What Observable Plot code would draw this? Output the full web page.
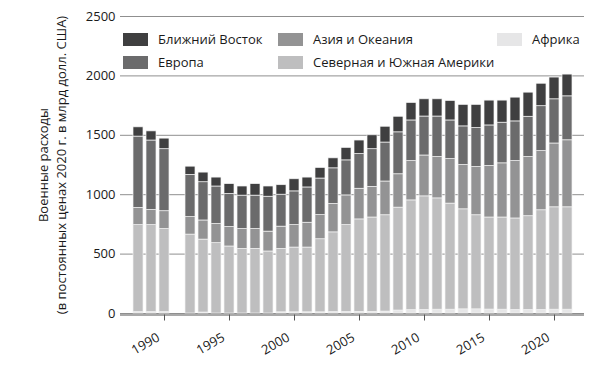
<!DOCTYPE html>
<html><head><meta charset="utf-8">
<script src="https://cdn.jsdelivr.net/npm/d3@7"></script>
<script src="https://cdn.jsdelivr.net/npm/@observablehq/plot@0.6"></script>
<style>
body{margin:0;background:#fff;}
#wrap{position:relative;width:616px;height:378px;font-family:"Open Sans",sans-serif;color:#1a1a1a;}
.lg{position:absolute;display:flex;align-items:center;font-size:13px;white-space:nowrap;}
.lg span.sw{display:inline-block;width:25px;height:13px;margin-right:10px;}
</style></head><body><div id="wrap"></div>
<script>
const years    = [1988,1989,1990,1992,1993,1994,1995,1996,1997,1998,1999,2000,2001,2002,2003,2004,2005,2006,2007,2008,2009,2010,2011,2012,2013,2014,2015,2016,2017,2018,2019,2020,2021];
const africa   = [12,12,12,0,8,0,0,0,0,0,10,10,10,10,12,12,14,14,16,25,28,30,32,32,35,35,33,32,30,30,30,32,32];
const americas = [732,732,699,664,614,592,564,544,544,522,534,545,545,615,671,732,778,794,811,866,924,956,937,893,842,792,775,776,770,789,839,862,862];
const asia     = [145,128,150,147,161,161,164,167,167,167,187,189,209,203,239,250,258,258,284,281,331,344,348,375,373,406,434,456,483,498,498,537,564];
const europe   = [600,584,522,356,322,316,278,281,281,294,269,284,297,308,300,295,292,317,328,353,342,328,341,325,325,328,341,342,334,339,378,372,370];
const middleEast = [78,77,89,69,81,75,83,77,97,86,80,102,83,89,84,105,114,117,133,131,147,145,145,164,181,195,209,186,200,203,189,183,183];

const seriesNames = ["Африка","Северная и Южная Америки","Азия и Океания","Европа","Ближний Восток"];
const seriesColors = ["#e6e6e7","#bebebf","#939394","#6b6b6c","#3f3f40"];
const tickYears = [1990,1995,2000,2005,2010,2015,2020];
const yTicks = [0,500,1000,1500,2000,2500];
const yLabel = "Военные расходы\n(в постоянных ценах 2020 г. в млрд долл. США)";

const seriesValues = [africa, americas, asia, europe, middleEast];
const data = years.flatMap((yr, i) => seriesNames.map((name, k) => ({year: yr, region: name, value: seriesValues[k][i]})));

const chart = Plot.plot({
  width: 616, height: 378,
  marginTop: 16, marginBottom: 65, marginLeft: 120, marginRight: 32,
  style: {fontFamily: "'Open Sans', sans-serif", fontSize: "13px", color: "#1a1a1a", background: "#fff"},
  x: {type: "band", domain: d3.range(1988, 2022), padding: 0.26, label: null},
  y: {domain: [0, 2500], label: null},
  color: {domain: seriesNames, range: seriesColors},
  marks: [
    Plot.gridY(yTicks, {stroke: "#8f8f8f", strokeOpacity: 1, strokeWidth: 1}),
    Plot.barY(data, {x: "year", y: "value", fill: "region", order: seriesNames, stroke: "#f3f3f3", strokeWidth: 0.7}),
    Plot.ruleY([0], {stroke: "#555", strokeWidth: 1.2, dy: 1.5}),
    Plot.axisY(yTicks, {tickSize: 0, tickPadding: 5, fontSize: 13, tickFormat: d => String(d), label: null}),
    Plot.axisX(tickYears, {tickSize: 6, stroke: "#555", dy: 1.5, tickFormat: () => "", label: null}),
    Plot.axisX(tickYears, {tickSize: 0, tickRotate: -30, tickPadding: 17, dx: -6, dy: 6, fontSize: 13, tickFormat: d => String(d), label: null}),
    Plot.text([yLabel], {frameAnchor: "left", textAnchor: "middle", rotate: -90, dx: -69, fontSize: 13, lineHeight: 1.38, fill: "#1a1a1a"})
  ]
});

const wrap = document.getElementById("wrap");
wrap.appendChild(chart);

// legend (HTML overlay)
const legendOrder = [
  {k: 4, left: 123, top: 30}, {k: 2, left: 278, top: 30}, {k: 0, left: 497, top: 30},
  {k: 3, left: 123, top: 53}, {k: 1, left: 278, top: 53}
];
for (const it of legendOrder) {
  const d = document.createElement("div");
  d.className = "lg";
  d.style.left = it.left + "px";
  d.style.top = it.top + "px";
  d.innerHTML = `<span class="sw" style="background:${seriesColors[it.k]}"></span><span>${seriesNames[it.k]}</span>`;
  wrap.appendChild(d);
}
</script></body></html>
